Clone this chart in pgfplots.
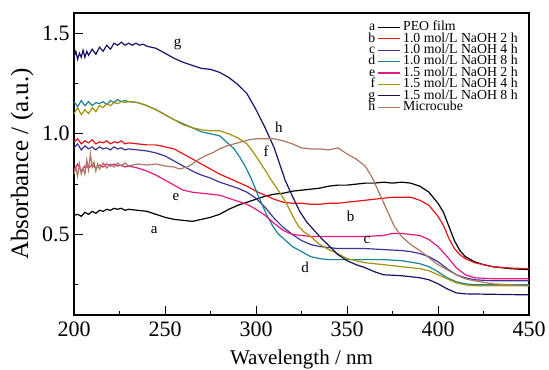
\documentclass[border=0pt]{standalone}
\usepackage{pgfplots}
\pgfplotsset{compat=1.18}
\usepackage{fontspec}
\setmainfont{Liberation Serif}
\definecolor{cA}{RGB}{0,0,0}
\definecolor{cB}{RGB}{230,20,25}
\definecolor{cC}{RGB}{55,55,150}
\definecolor{cD}{RGB}{25,130,150}
\definecolor{cE}{RGB}{230,25,130}
\definecolor{cF}{RGB}{165,145,10}
\definecolor{cG}{RGB}{20,20,100}
\definecolor{cH}{RGB}{170,120,100}
\pgfplotsset{lg/.style={legend image code/.code={\draw[line width=0.6pt,##1] (0pt,0pt) -- (11pt,0pt); \node[anchor=east,inner sep=0pt,text=black,text height=4.3pt,text depth=1.1pt] at (-1.2pt,0pt) {#1};}}}
\begin{document}
\begin{tikzpicture}
\begin{axis}[
  at={(0,0)}, anchor=south west,
  scale only axis, width=227.5pt, height=151pt,
  xmin=200, xmax=450, ymin=0.1, ymax=1.6,
  xtick={200,250,300,350,400,450},
  minor xtick={225,275,325,375,425},
  ytick={0.5,1.0,1.5},
  minor ytick={0.25,0.75,1.25},
  tick align=inside, xtick pos=bottom, ytick pos=left,
  major tick length=4.3pt, minor tick length=2pt,
  tick style={black, line width=0.5pt},
  axis line style={line width=0.6pt},
  ticklabel style={font=\fontsize{11}{13}\selectfont},
  /pgf/number format/assume math mode=true,
  yticklabel style={xshift=1.3pt, /pgf/number format/.cd, fixed, fixed zerofill, precision=1},
  xlabel={Wavelength / nm}, ylabel={Absorbance / (a.u.)},
  xlabel style={font=\fontsize{10.5}{12}\selectfont, yshift=0.3pt},
  ylabel style={font=\fontsize{12.5}{14}\selectfont, at={(axis description cs:-0.114,0.5)}, anchor=center},
  every axis plot/.append style={line width=0.6pt},
  legend style={at={(0.646,0.9725)}, anchor=north west, draw=none, fill=none,
    font=\fontsize{6.9}{7}\selectfont, inner sep=0pt, row sep=0pt, column sep=1pt,
    nodes={inner sep=0.15pt, text height=4.3pt, text depth=1.1pt}},
  legend cell align=left,
  clip=false,
]
\addplot[cA, lg=a] coordinates {(200,0.595)(202,0.60)(204,0.59)(206,0.61)(208,0.60)(210,0.615)(212,0.605)(214,0.62)(216,0.615)(218,0.625)(220,0.62)(222,0.63)(224,0.625)(226,0.63)(228,0.62)(230,0.625)(235,0.62)(240,0.615)(245,0.60)(250,0.585)(255,0.575)(260,0.57)(265,0.565)(270,0.575)(275,0.585)(280,0.60)(285,0.625)(290,0.645)(295,0.66)(300,0.675)(305,0.69)(310,0.70)(315,0.705)(320,0.715)(325,0.72)(330,0.725)(335,0.73)(340,0.74)(345,0.745)(350,0.745)(355,0.75)(360,0.755)(365,0.755)(370,0.76)(375,0.755)(380,0.76)(385,0.755)(390,0.74)(395,0.71)(400,0.655)(403,0.61)(406,0.54)(409,0.47)(412,0.42)(415,0.39)(420,0.365)(425,0.35)(430,0.34)(440,0.33)(450,0.325)};
\addlegendentry{PEO film}
\addplot[cB, lg=b] coordinates {(200,0.96)(202,0.975)(204,0.95)(206,0.965)(208,0.955)(210,0.97)(212,0.95)(214,0.96)(216,0.955)(218,0.965)(220,0.95)(222,0.96)(224,0.955)(226,0.965)(228,0.95)(230,0.955)(235,0.95)(240,0.945)(245,0.945)(250,0.935)(255,0.925)(260,0.90)(265,0.875)(270,0.85)(275,0.825)(280,0.80)(285,0.78)(290,0.76)(295,0.74)(300,0.715)(305,0.695)(310,0.675)(315,0.66)(320,0.655)(325,0.655)(330,0.65)(335,0.65)(340,0.655)(345,0.655)(350,0.66)(355,0.665)(360,0.67)(365,0.675)(370,0.68)(375,0.685)(380,0.685)(385,0.685)(390,0.67)(395,0.645)(400,0.59)(403,0.545)(406,0.48)(409,0.43)(412,0.40)(415,0.38)(420,0.36)(425,0.35)(430,0.34)(440,0.333)(450,0.33)};
\addlegendentry{1.0 mol/L NaOH 2 h}
\addplot[cC, lg=c] coordinates {(200,0.93)(202,0.95)(204,0.92)(206,0.94)(208,0.925)(210,0.935)(212,0.92)(214,0.935)(216,0.925)(218,0.93)(220,0.92)(222,0.935)(224,0.925)(226,0.93)(228,0.92)(230,0.925)(235,0.92)(240,0.915)(245,0.905)(250,0.89)(255,0.865)(260,0.84)(265,0.815)(270,0.795)(275,0.78)(280,0.76)(285,0.745)(290,0.73)(295,0.71)(300,0.68)(305,0.635)(310,0.58)(315,0.535)(320,0.50)(325,0.47)(330,0.45)(335,0.44)(340,0.435)(345,0.43)(350,0.43)(360,0.43)(370,0.425)(380,0.42)(385,0.415)(390,0.405)(395,0.39)(400,0.365)(405,0.33)(410,0.30)(415,0.285)(420,0.275)(430,0.27)(440,0.27)(450,0.27)};
\addlegendentry{1.0 mol/L NaOH 4 h}
\addplot[cD, lg=d] coordinates {(200,1.16)(202,1.135)(204,1.165)(206,1.14)(208,1.16)(210,1.14)(212,1.155)(214,1.15)(216,1.16)(218,1.145)(220,1.165)(222,1.155)(224,1.17)(226,1.16)(228,1.165)(230,1.16)(235,1.155)(240,1.14)(245,1.12)(250,1.095)(255,1.07)(260,1.05)(265,1.03)(270,1.01)(275,1.00)(280,0.99)(285,0.95)(288,0.925)(291,0.885)(294,0.84)(297,0.785)(300,0.72)(303,0.655)(306,0.595)(309,0.545)(312,0.505)(315,0.48)(320,0.44)(325,0.415)(330,0.39)(335,0.38)(340,0.375)(350,0.375)(360,0.375)(370,0.375)(380,0.37)(390,0.355)(395,0.34)(400,0.315)(405,0.285)(410,0.265)(415,0.255)(420,0.25)(430,0.25)(450,0.25)};
\addlegendentry{1.0 mol/L NaOH 8 h}
\addplot[cE, lg=e] coordinates {(200,0.82)(202,0.85)(204,0.815)(206,0.84)(208,0.83)(210,0.845)(212,0.83)(214,0.845)(216,0.835)(218,0.85)(220,0.84)(222,0.85)(224,0.84)(226,0.845)(228,0.835)(230,0.84)(235,0.83)(240,0.815)(245,0.795)(250,0.77)(255,0.745)(260,0.72)(265,0.71)(270,0.705)(275,0.70)(280,0.695)(285,0.68)(290,0.665)(295,0.65)(300,0.625)(305,0.595)(310,0.555)(315,0.52)(320,0.50)(325,0.495)(330,0.49)(340,0.49)(350,0.49)(360,0.49)(370,0.495)(375,0.505)(380,0.505)(385,0.50)(390,0.495)(395,0.475)(400,0.44)(405,0.39)(410,0.335)(415,0.30)(420,0.285)(430,0.28)(450,0.28)};
\addlegendentry{1.5 mol/L NaOH 2 h}
\addplot[cF, lg=f] coordinates {(200,1.10)(202,1.13)(204,1.095)(206,1.12)(208,1.10)(210,1.13)(212,1.11)(214,1.14)(216,1.13)(218,1.15)(220,1.14)(222,1.155)(224,1.15)(226,1.16)(228,1.155)(230,1.16)(235,1.155)(240,1.14)(245,1.12)(250,1.095)(255,1.07)(260,1.045)(265,1.03)(270,1.02)(275,1.015)(280,1.015)(285,1.0)(290,0.98)(295,0.95)(298,0.915)(301,0.875)(305,0.82)(308,0.775)(311,0.735)(314,0.695)(317,0.65)(320,0.595)(323,0.545)(326,0.515)(330,0.49)(335,0.45)(340,0.425)(346,0.40)(350,0.38)(360,0.36)(370,0.35)(380,0.34)(390,0.33)(395,0.32)(400,0.30)(405,0.28)(410,0.26)(415,0.25)(420,0.245)(450,0.245)};
\addlegendentry{1.5 mol/L NaOH 4 h}
\addplot[cG, lg=g] coordinates {(200,1.38)(201,1.41)(202,1.37)(203,1.40)(204,1.38)(205,1.415)(206,1.38)(207,1.41)(208,1.39)(210,1.42)(212,1.395)(214,1.43)(216,1.41)(218,1.44)(220,1.42)(222,1.45)(224,1.44)(226,1.455)(228,1.44)(230,1.45)(232,1.44)(234,1.45)(236,1.44)(238,1.445)(240,1.435)(245,1.425)(250,1.40)(255,1.375)(260,1.355)(265,1.34)(270,1.325)(275,1.32)(280,1.305)(285,1.28)(290,1.245)(295,1.20)(300,1.12)(305,1.03)(310,0.93)(313,0.85)(316,0.77)(320,0.69)(324,0.615)(328,0.56)(332,0.52)(336,0.48)(340,0.445)(345,0.40)(350,0.37)(355,0.35)(360,0.335)(365,0.315)(370,0.30)(380,0.295)(390,0.285)(395,0.275)(400,0.255)(405,0.23)(410,0.21)(415,0.205)(450,0.20)};
\addlegendentry{1.5 mol/L NaOH 8 h}
\addplot[cH, lg=h] coordinates {(200,0.80)(201,0.835)(202,0.79)(203,0.85)(204,0.80)(205,0.83)(206,0.80)(207,0.87)(208,0.82)(209,0.90)(210,0.835)(211,0.86)(212,0.815)(213,0.85)(214,0.825)(216,0.855)(218,0.83)(220,0.85)(222,0.835)(224,0.855)(226,0.84)(228,0.855)(230,0.84)(235,0.85)(240,0.845)(245,0.85)(250,0.84)(255,0.835)(258,0.825)(262,0.835)(265,0.85)(268,0.87)(272,0.89)(276,0.905)(280,0.925)(284,0.94)(288,0.95)(292,0.96)(296,0.97)(300,0.975)(305,0.975)(310,0.975)(315,0.965)(320,0.95)(325,0.93)(330,0.925)(335,0.925)(340,0.92)(345,0.93)(350,0.90)(355,0.875)(360,0.84)(364,0.78)(368,0.70)(372,0.62)(376,0.54)(380,0.49)(385,0.45)(390,0.42)(395,0.385)(400,0.35)(405,0.325)(410,0.30)(415,0.28)(420,0.27)(430,0.255)(440,0.25)(450,0.245)};
\addlegendentry{Microcube}
\begin{scope}[every node/.style={font=\fontsize{7.5}{8}\selectfont, inner sep=0pt}]
\node at (axis cs:257,1.445) {g};
\node at (axis cs:312.6,1.03) {h};
\node at (axis cs:305.5,0.915) {f};
\node at (axis cs:256,0.685) {e};
\node at (axis cs:244,0.52) {a};
\node at (axis cs:352,0.59) {b};
\node at (axis cs:361,0.47) {c};
\node at (axis cs:327,0.335) {d};
\end{scope}
\end{axis}
\pgfresetboundingbox
\path (-37pt,-27pt) rectangle (237.5pt,157.5pt);
\end{tikzpicture}
\end{document}
